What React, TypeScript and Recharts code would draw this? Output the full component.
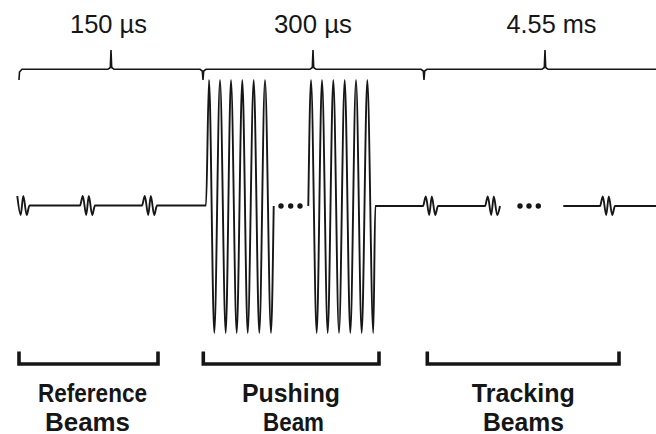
import { ComposedChart, Line, XAxis, YAxis, ReferenceDot } from 'recharts'

// schematic units: x across the timeline, y down the page (axis reversed)
type Pt = { x: number; y: number }
const pts = (rows: number[][]): Pt[] => rows.map(([x, y]) => ({ x, y }))

// reference beams -> first half of the push burst
const waveA = pts([
  [17.3, 196], [20.7, 215], [23.3, 196], [26.7, 215], [29.5, 205.5],
  [80, 205.5], [82.8, 196], [86.2, 215], [88.8, 196], [92.2, 215], [95, 205.5],
  [142, 205.5], [144.8, 196], [148.2, 215], [150.8, 196], [154.2, 215], [157, 205.5],
  [206, 205.5],
  [209, 80], [214.3, 333], [220, 80], [225.7, 333], [231, 80], [236.7, 333],
  [242.3, 80], [247.7, 333], [253.7, 80], [259.3, 333], [265, 80], [271, 333],
  [273.7, 206],
])

// second half of the push burst -> first tracking beams
const waveB = pts([
  [308.3, 206],
  [311, 80], [316.7, 333], [322, 80], [327.7, 333], [333.3, 80], [339, 333],
  [344.7, 80], [350.3, 333], [356, 80], [361.7, 333], [367.3, 80], [373.3, 333],
  [375.3, 206], [423, 206],
  [425.8, 196.5], [429.2, 215], [431.8, 196.5], [435.2, 215], [438, 206],
  [485, 206], [487.8, 196.5], [491.2, 215], [493.8, 196.5], [497.2, 215], [500, 206],
])

// last tracking beam
const waveC = pts([
  [563.3, 206], [600, 206],
  [602.8, 196.5], [606.2, 215], [608.8, 196.5], [612.2, 215], [615, 206],
  [656, 206],
])

const ellipsis = pts([
  [281, 206], [290.7, 206], [300, 206],
  [520, 206], [529, 206], [538.3, 206],
])

// top brace with its ticks
const brace = pts([
  [19, 80], [19.5, 72], [22, 69.3],
  [108, 69.3], [110.3, 67.5], [111, 50], [111.7, 67.5], [114, 69.3],
  [200, 69.3], [202.3, 71], [203, 80], [203.7, 71], [206, 69.3],
  [310, 69.3], [312.3, 67.5], [313, 50], [313.7, 67.5], [316, 69.3],
  [421, 69.3], [423.3, 71], [424, 80], [424.7, 71], [427, 69.3],
  [542, 69.3], [544.3, 67.5], [545, 50], [545.7, 67.5], [548, 69.3],
  [656, 69.3],
])

const brackets = [
  pts([[19, 351.5], [19, 364], [158, 364], [158, 351.5]]),
  pts([[203.3, 351.5], [203.3, 364], [379, 364], [379, 351.5]]),
  pts([[427.3, 351.5], [427.3, 364], [619, 364], [619, 351.5]]),
]

const durations = ['150 µs', '300 µs', '4.55 ms']
const durationX = [108.5, 313, 551.5]
const durationWidth = [77, 78, 90]

const beamNames = [['Reference', 'Beams'], ['Pushing', 'Beam'], ['Tracking', 'Beams']]
const beamX = [[92.5, 87.5], [291, 293.5], [523.3, 523.5]]
const beamWidth = [[109, 85], [98, 61], [103, 81]]
const beamRowY = [401.5, 430.5]

const INK = '#161616'
const FONT = '"Liberation Sans", Arial, sans-serif'

const textAt = (value: string, size: number, weight: number, len: number) => (props: any) => {
  const vb = props.viewBox || {}
  return (
    <text
      x={(vb.x ?? 0) + (vb.width ?? 0) / 2}
      y={(vb.y ?? 0) + (vb.height ?? 0) / 2}
      textAnchor="middle"
      fontFamily={FONT}
      fontSize={size}
      fontWeight={weight}
      fill={INK}
      textLength={len}
      lengthAdjust="spacingAndGlyphs"
    >
      {value}
    </text>
  )
}

export default function App() {
  return (
    <div style={{ width: 656, height: 434, background: '#fff' }}>
      <style>{'body{margin:0}'}</style>
      <ComposedChart width={656} height={434} margin={{ top: 0, right: 0, bottom: 0, left: 0 }}>
        <XAxis type="number" dataKey="x" domain={[0, 656]} hide allowDataOverflow />
        <YAxis type="number" dataKey="y" domain={[0, 434]} reversed hide allowDataOverflow />

        {[waveA, waveB, waveC].map((d, i) => (
          <Line key={'w' + i} data={d} dataKey="y" type="monotone" stroke={INK}
            strokeWidth={1.9} dot={false} activeDot={false} isAnimationActive={false} />
        ))}

        <Line data={brace} dataKey="y" type="linear" stroke={INK} strokeWidth={1.6}
          dot={false} activeDot={false} isAnimationActive={false} />

        {brackets.map((d, i) => (
          <Line key={'b' + i} data={d} dataKey="y" type="linear" stroke={INK} strokeWidth={3.6}
            strokeLinejoin="miter" dot={false} activeDot={false} isAnimationActive={false} />
        ))}

        {ellipsis.map((p, i) => (
          <ReferenceDot key={'d' + i} x={p.x} y={p.y} r={2.7} fill={INK} stroke="none" />
        ))}

        {durations.map((t, i) => (
          <ReferenceDot key={'t' + i} x={durationX[i]} y={33} r={0} stroke="none"
            label={{ content: textAt(t, 26, 400, durationWidth[i]) }} />
        ))}

        {beamNames.map((rows, i) =>
          rows.map((t, j) => (
            <ReferenceDot key={'n' + i + j} x={beamX[i][j]} y={beamRowY[j]} r={0} stroke="none"
              label={{ content: textAt(t, 25, 700, beamWidth[i][j]) }} />
          ))
        )}
      </ComposedChart>
    </div>
  )
}
